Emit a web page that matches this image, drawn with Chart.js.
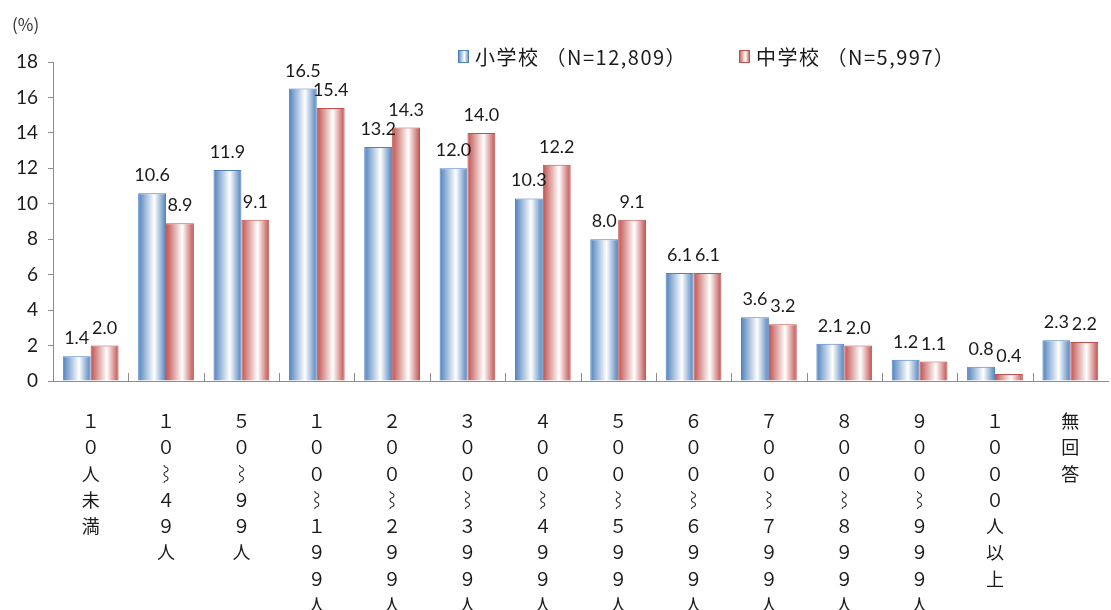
<!DOCTYPE html>
<html>
<head>
<meta charset="utf-8">
<script src="https://cdn.jsdelivr.net/npm/chart.js@4"></script>
<style>
  html, body { margin: 0; padding: 0; background: #fff; }
  #wrap { width: 1111px; height: 610px; position: relative; }
</style>
</head>
<body>
<div id="wrap"><canvas id="chart"></canvas></div>
<script>
// category labels, one character per line (vertical text)
const categories = [
    ['１', '０', '人', '未', '満'],
    ['１', '０', '⌇', '４', '９', '人'],
    ['５', '０', '⌇', '９', '９', '人'],
    ['１', '０', '０', '⌇', '１', '９', '９', '人'],
    ['２', '０', '０', '⌇', '２', '９', '９', '人'],
    ['３', '０', '０', '⌇', '３', '９', '９', '人'],
    ['４', '０', '０', '⌇', '４', '９', '９', '人'],
    ['５', '０', '０', '⌇', '５', '９', '９', '人'],
    ['６', '０', '０', '⌇', '６', '９', '９', '人'],
    ['７', '０', '０', '⌇', '７', '９', '９', '人'],
    ['８', '０', '０', '⌇', '８', '９', '９', '人'],
    ['９', '０', '０', '⌇', '９', '９', '９', '人'],
    ['１', '０', '０', '０', '人', '以', '上'],
    ['無', '回', '答']
];
const elementary = [1.4, 10.6, 11.9, 16.5, 13.2, 12.0, 10.3, 8.0, 6.1, 3.6, 2.1, 1.2, 0.8, 2.3];
const juniorHigh = [2.0, 8.9, 9.1, 15.4, 14.3, 14.0, 12.2, 9.1, 6.1, 3.2, 2.0, 1.1, 0.4, 2.2];
const seriesNames = ['小学校 （N=12,809）', '中学校 （N=5,997）'];
const yTicks = { min: 0, max: 18, step: 2 };

const blue = '#4f81bd';
const red = '#c0504d';
const catPct = 0.74;
const textFont = '"Noto Sans CJK JP", "DejaVu Sans", sans-serif';
const numFont = 'Lato, "Open Sans", sans-serif';

function barGradient(ctx, x0, x1, color) {
    const g = ctx.createLinearGradient(x0, 0, x1, 0);
    g.addColorStop(0, color);
    g.addColorStop(0.58, '#ffffff');
    g.addColorStop(1, color);
    return g;
}

function scriptedFill(color, side) {
    return (context) => {
        const chart = context.chart;
        const xs = chart.scales.x;
        if (!chart.chartArea || !xs || context.dataIndex === undefined) return color;
        const w = (xs.right - xs.left) / categories.length;
        const c = xs.getPixelForValue(context.dataIndex);
        const half = w * catPct / 2;
        const x0 = side === 0 ? c - half : c;
        return barGradient(chart.ctx, x0, x0 + half, color);
    };
}

const extras = {
    id: 'extras',
    afterDraw(chart) {
        const ctx = chart.ctx;
        const xs = chart.scales.x;
        const area = chart.chartArea;
        ctx.save();

        // inner tick marks between categories
        ctx.strokeStyle = '#8c8c8c';
        ctx.lineWidth = 1;
        for (let k = 1; k < categories.length; k++) {
            const x = Math.round((xs.getPixelForValue(k - 1) + xs.getPixelForValue(k)) / 2) + 0.5;
            ctx.beginPath();
            ctx.moveTo(x, area.bottom);
            ctx.lineTo(x, area.bottom - 8);
            ctx.stroke();
        }

        // value labels
        ctx.fillStyle = '#1a1a1a';
        ctx.font = '18px ' + numFont;
        ctx.textAlign = 'center';
        ctx.textBaseline = 'alphabetic';
        chart.data.datasets.forEach((ds, di) => {
            chart.getDatasetMeta(di).data.forEach((bar, i) => {
                ctx.fillText(ds.data[i].toFixed(1), bar.x, bar.y - 12);
            });
        });

        // unit
        ctx.font = '17px ' + textFont;
        ctx.textAlign = 'left';
        ctx.textBaseline = 'middle';
        ctx.fillStyle = '#333';
        ctx.fillText('(%)', 12, 25);

        // legend
        const items = [[458, blue, seriesNames[0]], [739, red, seriesNames[1]]];
        ctx.font = '20px ' + textFont;
        ctx.letterSpacing = '1.5px';
        items.forEach(([x, color, name]) => {
            ctx.fillStyle = barGradient(ctx, x, x + 11, color);
            ctx.fillRect(x, 50, 11, 13);
            ctx.strokeStyle = color;
            ctx.strokeRect(x + 0.5, 50.5, 10, 12);
            ctx.fillStyle = '#1a1a1a';
            ctx.fillText(name, x + 17, 57);
        });
        ctx.restore();
    }
};

new Chart(document.getElementById('chart'), {
    type: 'bar',
    data: {
        labels: categories,
        datasets: [
            {
                label: seriesNames[0],
                data: elementary,
                backgroundColor: scriptedFill(blue, 0),
                borderColor: blue,
                borderWidth: 1
            },
            {
                label: seriesNames[1],
                data: juniorHigh,
                backgroundColor: scriptedFill(red, 1),
                borderColor: red,
                borderWidth: 1
            }
        ]
    },
    options: {
        responsive: true,
        maintainAspectRatio: false,
        animation: false,
        events: [],
        layout: { padding: { top: 62, right: 3, left: 0, bottom: 0 } },
        datasets: { bar: { barPercentage: 1, categoryPercentage: catPct } },
        scales: {
            x: {
                grid: { display: false, drawTicks: false },
                border: { color: '#8c8c8c' },
                ticks: {
                    color: '#1a1a1a',
                    autoSkip: false,
                    maxRotation: 0,
                    padding: 27,
                    font: { family: textFont, size: 18, lineHeight: 1.46 }
                },
                afterFit: (scale) => { scale.height = 229; }
            },
            y: {
                min: yTicks.min,
                max: yTicks.max,
                grid: { drawOnChartArea: false, drawTicks: true, tickLength: 5, color: '#8c8c8c' },
                border: { color: '#8c8c8c' },
                ticks: {
                    stepSize: yTicks.step,
                    color: '#1a1a1a',
                    padding: 10,
                    font: { family: numFont, size: 19 }
                },
                afterFit: (scale) => { scale.width = 53; }
            }
        },
        plugins: {
            legend: { display: false },
            tooltip: { enabled: false }
        }
    },
    plugins: [extras]
});
</script>
</body>
</html>
